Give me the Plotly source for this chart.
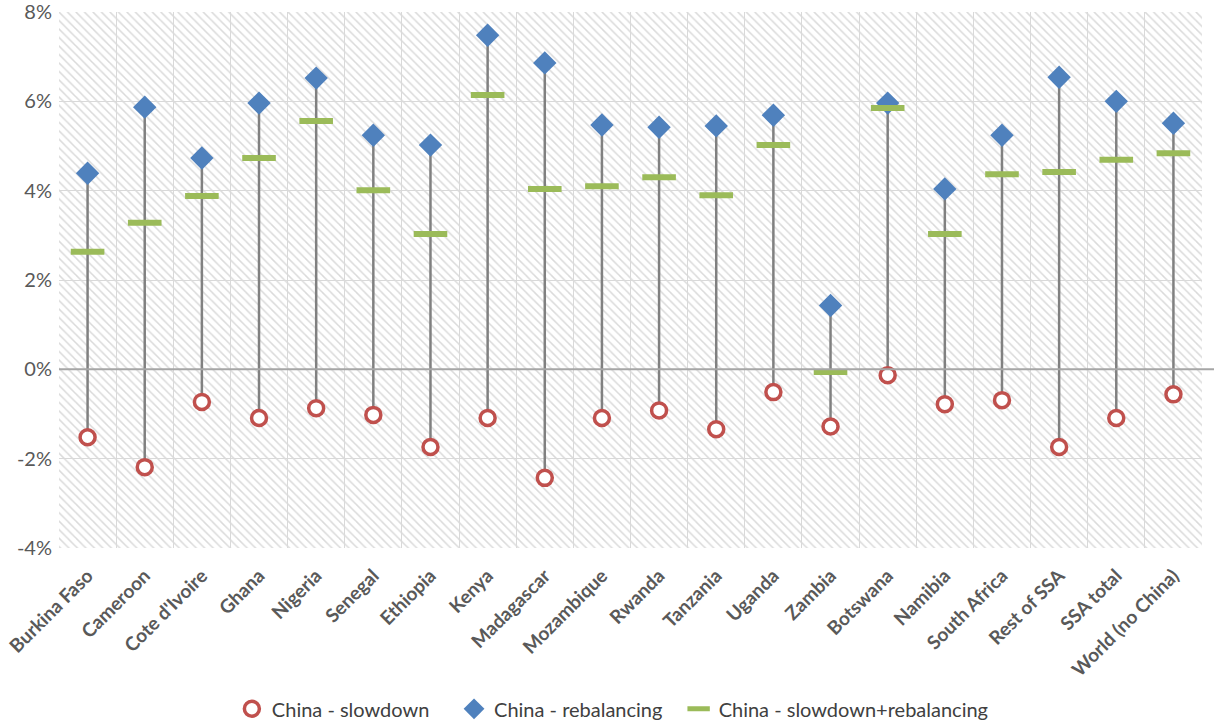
import plotly.graph_objects as go

categories = ["Burkina Faso", "Cameroon", "Cote d'Ivoire", "Ghana", "Nigeria", "Senegal",
              "Ethiopia", "Kenya", "Madagascar", "Mozambique", "Rwanda", "Tanzania",
              "Uganda", "Zambia", "Botswana", "Namibia", "South Africa", "Rest of SSA",
              "SSA total", "World (no China)"]

slowdown = [-1.52, -2.19, -0.73, -1.09, -0.87, -1.02, -1.74, -1.09, -2.43, -1.09,
            -0.92, -1.34, -0.51, -1.28, -0.13, -0.78, -0.69, -1.74, -1.09, -0.56]
rebalancing = [4.39, 5.87, 4.73, 5.96, 6.52, 5.24, 5.02, 7.48, 6.86, 5.47,
               5.42, 5.45, 5.69, 1.43, 5.96, 4.04, 5.24, 6.54, 6.00, 5.51]
combined = [2.63, 3.28, 3.88, 4.73, 5.56, 4.01, 3.03, 6.14, 4.04, 4.10,
            4.30, 3.90, 5.02, -0.06, 5.85, 3.03, 4.37, 4.42, 4.69, 4.84]

y_min, y_max = -4, 8
y_ticks = [-4, -2, 0, 2, 4, 6, 8]

FONT = "Lato"
TXT = "#595959"

fig = go.Figure()

# hatched plot-area background
fig.add_trace(go.Bar(
    x=categories, y=[y_max - y_min] * len(categories), base=y_min, width=1,
    marker=dict(color="rgba(0,0,0,0)", line=dict(width=0),
                pattern=dict(shape="\\", fgcolor="#dadada", bgcolor="rgba(0,0,0,0)",
                             size=6, solidity=0.25, fillmode="replace")),
    showlegend=False, hoverinfo="skip"))

# high-low lines
hx, hy = [], []
for c, a, b, d in zip(categories, slowdown, rebalancing, combined):
    hx += [c, c, None]
    hy += [min(a, b, d), max(a, b, d), None]
fig.add_trace(go.Scatter(x=hx, y=hy, mode="lines", line=dict(color="#808080", width=2.5),
                         showlegend=False, hoverinfo="skip"))

fig.add_trace(go.Scatter(
    x=categories, y=slowdown, mode="markers", name="China - slowdown", legend="legend",
    marker=dict(symbol="circle", size=15, color="white",
                line=dict(color="#C0504D", width=3.5))))
fig.add_trace(go.Scatter(
    x=categories, y=rebalancing, mode="markers", name="China - rebalancing", legend="legend2",
    marker=dict(symbol="diamond", size=18, color="#4F81BD",
                line=dict(color="#4F81BD", width=0))))
fig.add_trace(go.Scatter(
    x=categories, y=combined, mode="markers", name="China - slowdown+rebalancing",
    legend="legend3",
    marker=dict(symbol="line-ew", size=24,
                line=dict(color="#9BBB59", width=6))))

fig.add_shape(type="line", xref="paper", yref="y", x0=0, x1=1.011, y0=0, y1=0,
              line=dict(color="#A6A6A6", width=2), layer="above")


def leg(xpos):
    return dict(orientation="h", x=xpos, xanchor="left", xref="container",
                y=0.021, yanchor="middle", yref="container",
                font=dict(size=20, color="#404040", family=FONT),
                itemwidth=30, bgcolor="rgba(0,0,0,0)")


fig.update_layout(
    width=1214, height=724,
    margin=dict(l=59, r=12, t=12, b=176, autoexpand=False),
    paper_bgcolor="white", plot_bgcolor="white",
    barmode="overlay", bargap=0,
    font=dict(family=FONT, color=TXT),
    legend=leg(0.191), legend2=leg(0.374), legend3=leg(0.559),
    xaxis=dict(type="category", tickson="boundaries", showgrid=True, gridcolor="#d9d9d9",
               gridwidth=1, ticks="", tickangle=-45, automargin=False,
               tickfont=dict(size=19, color=TXT, family=FONT, weight="bold"),
               ticklabelstandoff=12,
               showline=False, zeroline=False, range=[-0.5, len(categories) - 0.5]),
    yaxis=dict(range=[y_min, y_max], tickvals=y_ticks, automargin=False,
               ticktext=[f"{v}%" for v in y_ticks], showgrid=True, gridcolor="#d9d9d9",
               gridwidth=1, zeroline=False, showline=False, ticks="",
               tickfont=dict(size=20, color=TXT, family=FONT), ticklabelstandoff=6,
               ticklabeloverflow="allow"),
)

fig.write_html("out.html")
